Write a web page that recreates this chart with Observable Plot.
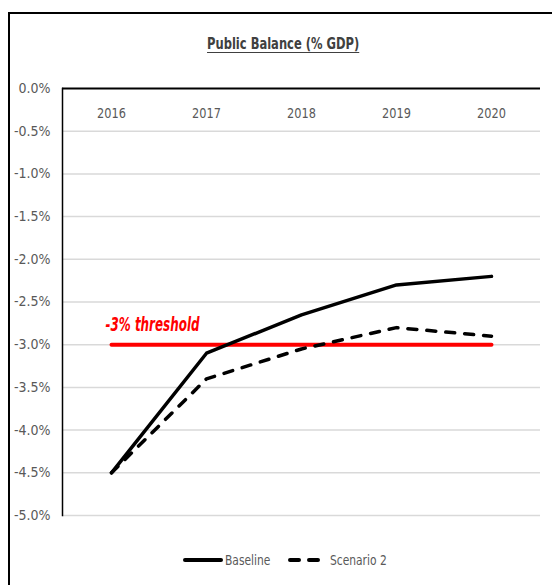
<!DOCTYPE html>
<html>
<head>
<meta charset="utf-8">
<script src="https://cdn.jsdelivr.net/npm/d3@7"></script>
<script src="https://cdn.jsdelivr.net/npm/@observablehq/plot@0.6"></script>
<style>
  html, body { margin: 0; padding: 0; background: #fff; overflow: hidden; }
  body { width: 552px; height: 585px; position: relative; font-family: "Liberation Sans Narrow", "DejaVu Sans Condensed", sans-serif; }
  #border { position: absolute; left: 8px; top: 12px; width: 700px; height: 700px; border-left: 2px solid #000; border-top: 2px solid #000; box-sizing: border-box; }
  #title { position: absolute; left: 0; width: 566px; top: 34px; text-align: center; }
  #title span { display: inline-block; font-weight: bold; font-size: 16px; color: #404040; text-decoration: underline; text-underline-offset: 3px; transform: scaleX(0.8); }
  #chart { position: absolute; left: 0; top: 0; }
  #legend { position: absolute; top: 550px; left: 0; width: 552px; font-size: 14px; color: #595959; }
  #legend .item { position: absolute; display: flex; align-items: center; gap: 2px; }
  #legend .item span { display: inline-block; transform: scaleX(0.85); transform-origin: left center; }
</style>
</head>
<body>
<div id="border"></div>
<div id="chart"></div>
<div id="title"><span>Public Balance (% GDP)</span></div>
<div id="legend"></div>
<script>
const years = [2016, 2017, 2018, 2019, 2020];
const baseline = [-4.5, -3.1, -2.65, -2.3, -2.2];
const scenario2 = [-4.5, -3.4, -3.05, -2.8, -2.9];
const thresholdValue = -3.0;
const thresholdLabel = "-3% threshold";
const yTicks = [0, -0.5, -1, -1.5, -2, -2.5, -3, -3.5, -4, -4.5, -5];
const seriesNames = ["Baseline", "Scenario 2"];

const baseData = years.map((y, i) => ({year: y, value: baseline[i]}));
const scenData = years.map((y, i) => ({year: y, value: scenario2[i]}));
const threshData = [years[0], years[years.length - 1]].map(y => ({year: y, value: thresholdValue}));

const font = '"Liberation Sans Narrow", "DejaVu Sans Condensed", sans-serif';

const chart = Plot.plot({
  width: 552,
  height: 585,
  marginTop: 88,
  marginBottom: 70,
  marginLeft: 62,
  marginRight: 12,
  style: {fontFamily: font, fontSize: "14px", color: "#595959", background: "transparent"},
  x: {type: "point", domain: years, padding: 0.5, axis: null},
  y: {domain: [-5, 0], axis: null},
  marks: [
    Plot.ruleY(yTicks.filter(d => d !== 0), {stroke: "#d9d9d9", strokeWidth: 1.5}),
    Plot.axisY({ticks: yTicks, tickSize: 0, tickPadding: 12, tickFormat: d => d.toFixed(1) + "%", label: null, fill: "#595959"}),
    Plot.frame({anchor: "left", stroke: "#000", strokeWidth: 1.5}),
    Plot.ruleY([0], {stroke: "#000", strokeWidth: 2}),
    Plot.text(years, {x: d => d, y: () => 0, dy: 25, text: d => String(d), fill: "#595959", fontSize: 14, className: "xlab"}),
    Plot.line(threshData, {x: "year", y: "value", stroke: "#ff0000", strokeWidth: 4}),
    Plot.text([thresholdLabel], {x: () => years[0], y: () => thresholdValue, text: d => d, dx: -6, dy: -20, textAnchor: "start", fill: "#ff0000", fontSize: 19, fontWeight: "bold", fontStyle: "italic", className: "thlab"}),
    Plot.line(scenData, {x: "year", y: "value", stroke: "#000", strokeWidth: 3.5, strokeDasharray: "9,10", strokeLinecap: "round"}),
    Plot.line(baseData, {x: "year", y: "value", stroke: "#000", strokeWidth: 3.5, strokeLinecap: "round"})
  ]
});
document.getElementById("chart").appendChild(chart);

// horizontally condense text around its own anchor (the reference uses a narrow font)
function squeeze(selector, s) {
  chart.querySelectorAll(selector).forEach(t => {
    const x = parseFloat(t.getAttribute("x")) || 0;
    const prev = t.getAttribute("transform") || "";
    t.setAttribute("transform", `${prev} translate(${x},0) scale(${s},1) translate(${-x},0)`);
  });
}
squeeze(".xlab text", 0.9);
squeeze(".thlab text", 0.7);

// legend
const legend = document.getElementById("legend");
const items = [
  {name: seriesNames[0], left: 183, dash: null},
  {name: seriesNames[1], left: 288, dash: "9,10"}
];
for (const it of items) {
  const div = document.createElement("div");
  div.className = "item";
  div.style.left = it.left + "px";
  const svg = d3.create("svg").attr("width", 40).attr("height", 20);
  svg.append("line").attr("x1", 2).attr("x2", 38).attr("y1", 10).attr("y2", 10)
    .attr("stroke", "#000").attr("stroke-width", 4).attr("stroke-linecap", "round")
    .attr("stroke-dasharray", it.dash);
  div.appendChild(svg.node());
  const span = document.createElement("span");
  span.textContent = it.name;
  div.appendChild(span);
  legend.appendChild(div);
}
</script>
</body>
</html>
